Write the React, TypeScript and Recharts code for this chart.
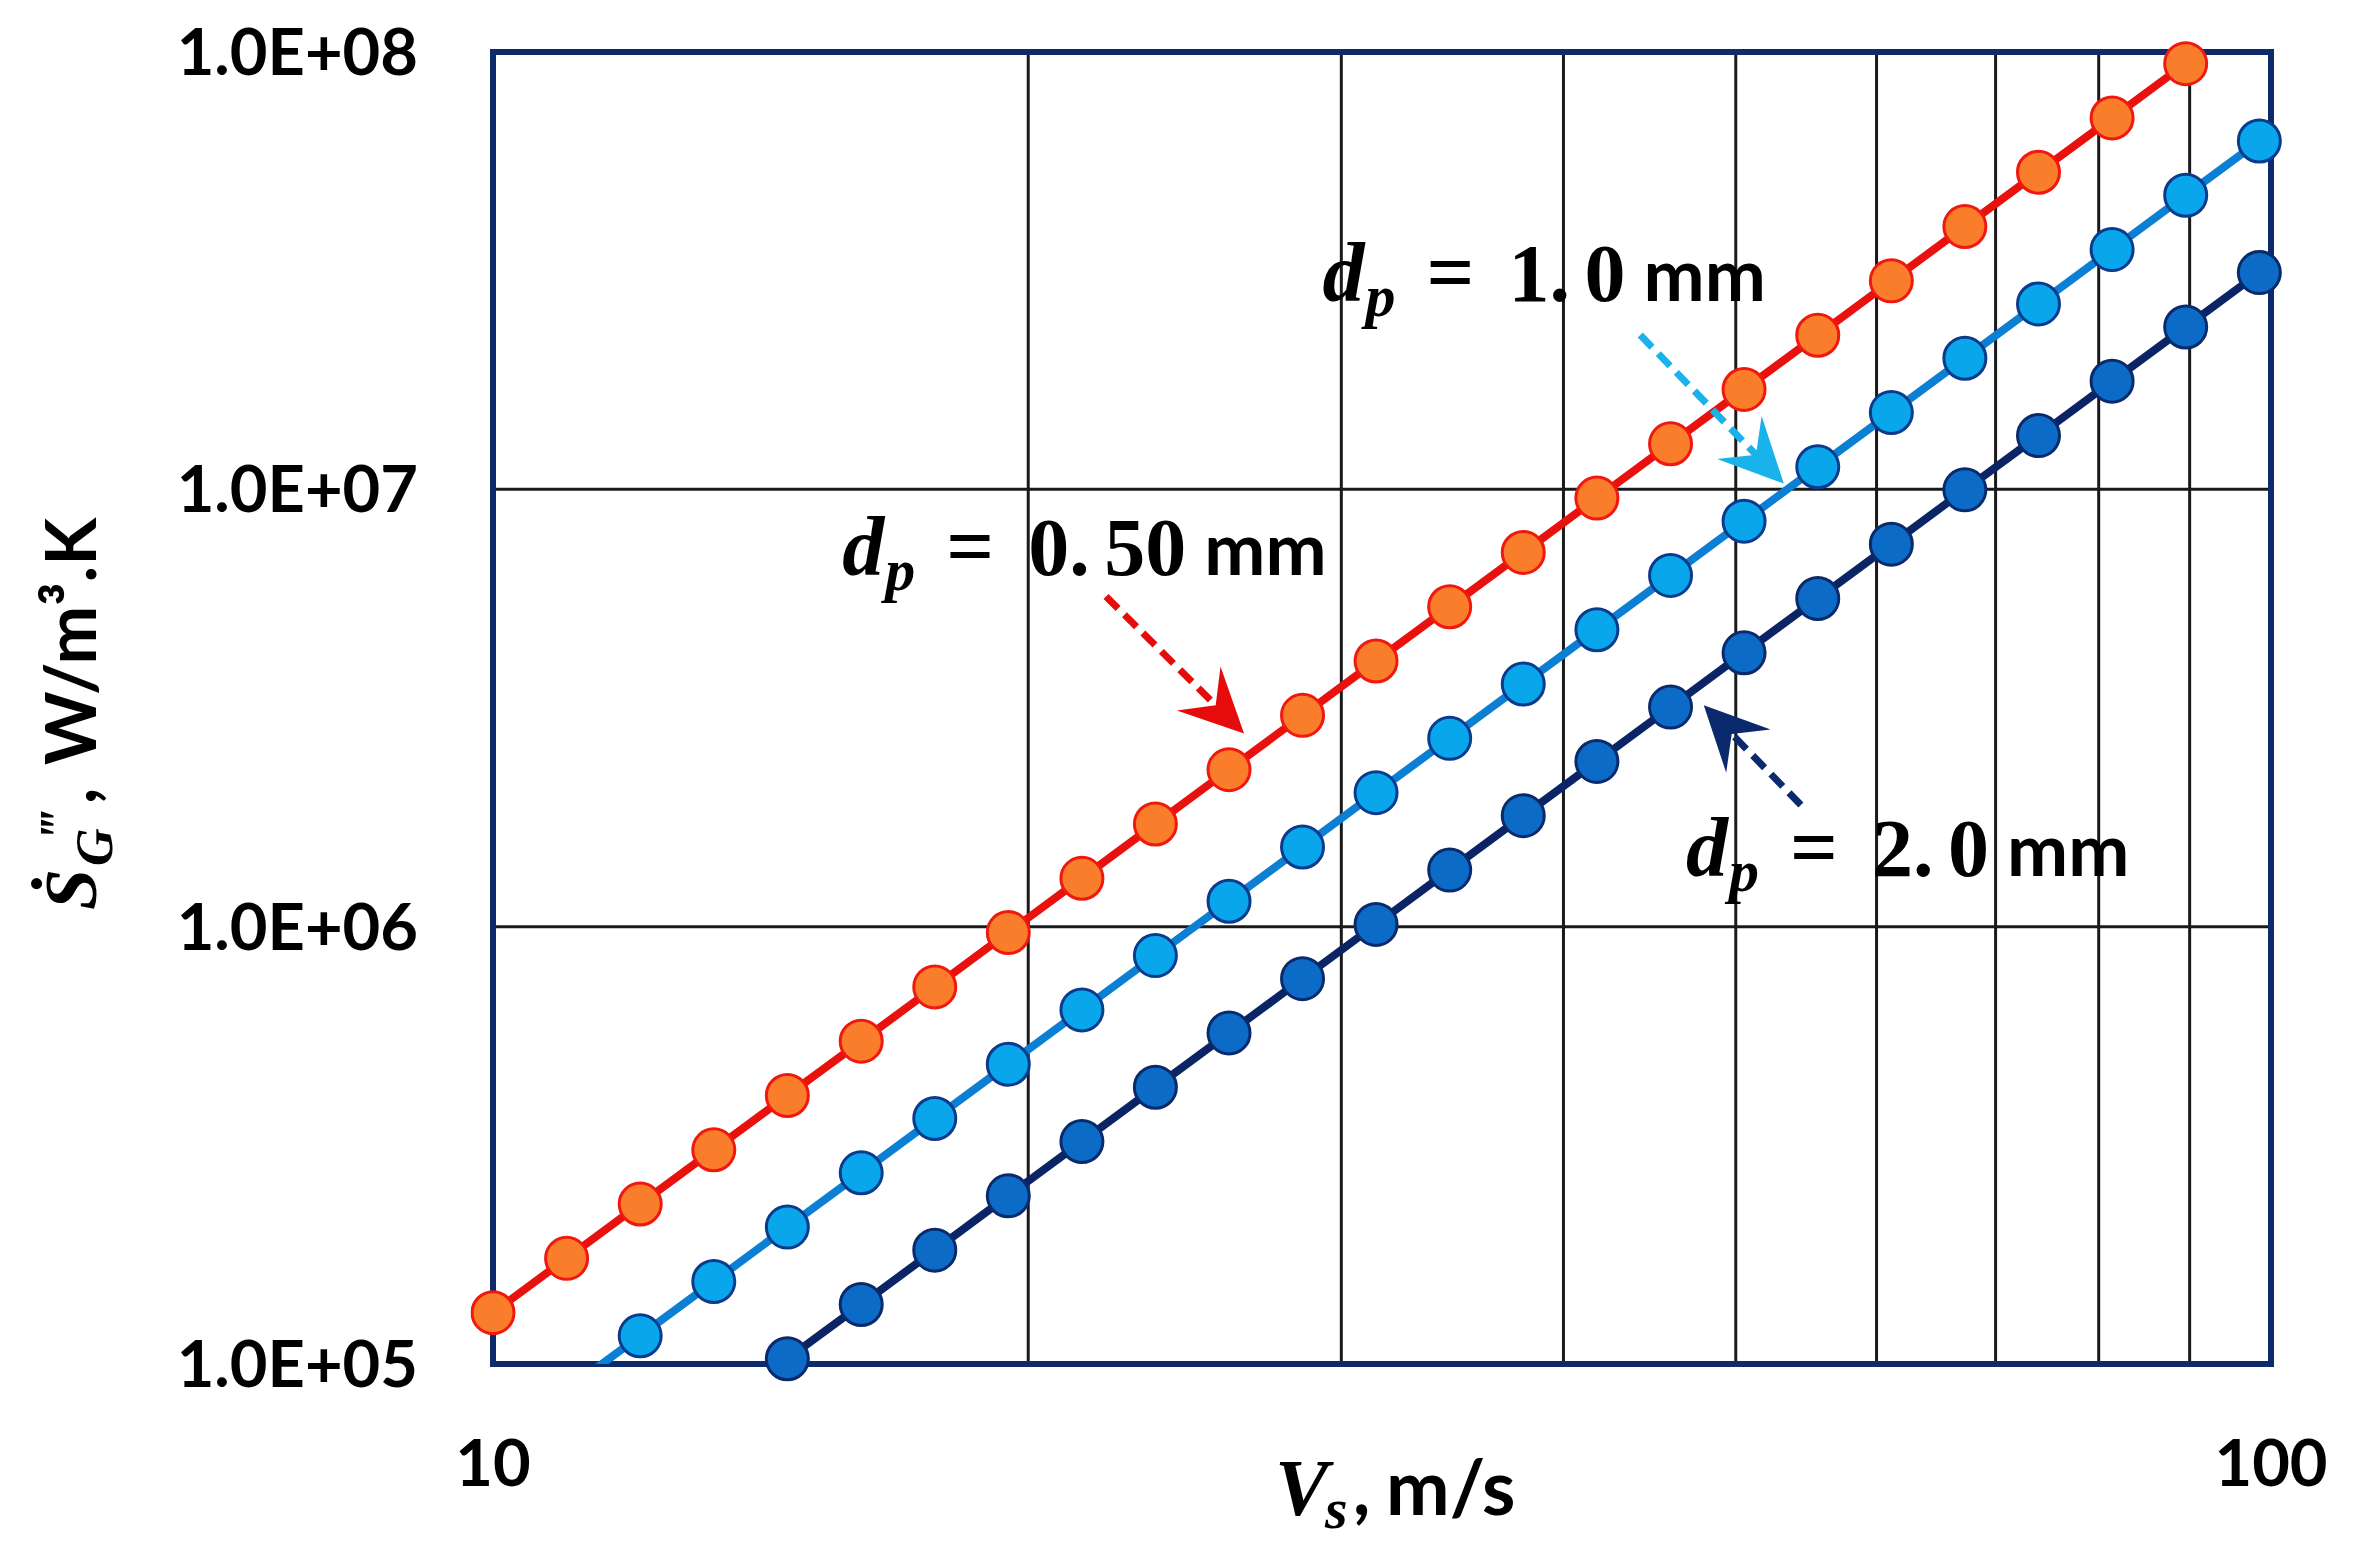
import React from 'react';
import {
  LineChart,
  Line,
  XAxis,
  YAxis,
  CartesianGrid,
  ReferenceArea,
  ReferenceDot,
  ReferenceLine,
  Customized,
} from 'recharts';

// ---------- data ----------
const VELOCITY = [
  10, 11, 12.1, 13.31, 14.64, 16.11, 17.72, 19.49, 21.44, 23.58, 25.94, 28.53, 31.38,
  34.52, 37.97, 41.77, 45.95, 50.54, 55.6, 61.16, 67.27, 74.0, 81.4, 89.54, 98.5,
];

// d_p = 0.50 mm : V = 10 ... 89.5
const V_050 = VELOCITY.slice(0, 24);
const S_050 = [
  1.31e5, 1.744e5, 2.321e5, 3.089e5, 4.111e5, 5.472e5, 7.283e5, 9.694e5, 1.29e6, 1.717e6,
  2.286e6, 3.042e6, 4.05e6, 5.39e6, 7.174e6, 9.549e6, 1.271e7, 1.692e7, 2.251e7, 2.997e7,
  3.989e7, 5.309e7, 7.066e7, 9.405e7,
];

// d_p = 1.0 mm : V = 11 ... 98.5
const V_100 = VELOCITY.slice(1, 25);
const S_100 = [
  8.72e4, 1.16e5, 1.544e5, 2.056e5, 2.736e5, 3.642e5, 4.847e5, 6.452e5, 8.587e5, 1.143e6,
  1.521e6, 2.025e6, 2.695e6, 3.587e6, 4.774e6, 6.355e6, 8.458e6, 1.126e7, 1.498e7, 1.994e7,
  2.654e7, 3.533e7, 4.703e7, 6.259e7,
];

// d_p = 2.0 mm : V = 14.6 ... 98.5
const V_200 = VELOCITY.slice(4, 25);
const S_200 = [
  1.028e5, 1.368e5, 1.821e5, 2.424e5, 3.226e5, 4.294e5, 5.715e5, 7.606e5, 1.012e6, 1.347e6,
  1.794e6, 2.387e6, 3.177e6, 4.229e6, 5.629e6, 7.492e6, 9.972e6, 1.327e7, 1.767e7, 2.351e7,
  3.13e7,
];

const X_DOMAIN = [10, 100];
const X_TICKS = [10, 20, 30, 40, 50, 60, 70, 80, 90, 100];
const X_LABELED = [10, 100];
const Y_DOMAIN = [1e5, 1e8];
const Y_TICKS = [1e5, 1e6, 1e7, 1e8];
const Y_TICK_LABELS = ['1.0E+05', '1.0E+06', '1.0E+07', '1.0E+08'];

// annotation anchors (data coordinates)
const LABELS = [
  { key: 'l050', value: '0.50', x: 15.72, y: 6.37e6 },
  { key: 'l100', value: '1.0', x: 29.28, y: 2.695e7 },
  { key: 'l200', value: '2.0', x: 46.88, y: 1.306e6 },
];
const ARROWS = [
  { key: 'a050', color: '#e60c0c', from: { x: 22.12, y: 5.69e6 }, to: { x: 26.45, y: 2.765e6 } },
  { key: 'a100', color: '#1ab2ea', from: { x: 44.18, y: 2.254e7 }, to: { x: 53.21, y: 1.031e7 } },
  { key: 'a200', color: '#0b2a6e', from: { x: 54.4, y: 1.898e6 }, to: { x: 47.97, y: 3.208e6 } },
];

const zip = (vs: number[], ss: number[]) => vs.map((v, i) => ({ v, s: ss[i] }));
const data050 = zip(V_050, S_050);
const data100 = zip(V_100, S_100);
const data200 = zip(V_200, S_200);
const data100Dots = data100.filter((d) => d.s >= Y_DOMAIN[0]);

const SANS = "Lato, 'Open Sans', sans-serif";
const SERIF = "'Liberation Serif', 'DejaVu Serif', serif";

// ---------- render helpers ----------
const XTick = (props: any) => {
  const { x, y, payload } = props;
  if (!X_LABELED.includes(payload.value)) return <g />;
  return (
    <text x={x} y={y} dy={23} textAnchor="middle" fontFamily={SANS} fontWeight={700} fontSize={65} fill="#000">
      {String(payload.value)}
    </text>
  );
};

const YTick = (props: any) => {
  const { x, y, payload } = props;
  const idx = Y_TICKS.indexOf(payload.value);
  return (
    <text x={x} y={y} dy={23} textAnchor="end" fontFamily={SANS} fontWeight={700} fontSize={65} fill="#000">
      {Y_TICK_LABELS[idx]}
    </text>
  );
};

const DpLabel = ({ cx, cy, value }: { cx: number; cy: number; value: string }) => {
  const [intPart, frac] = value.split('.');
  return (
    <text x={cx} y={cy} fill="#000" fontWeight={700}>
      <tspan fontFamily={SERIF} fontStyle="italic" fontSize={84}>d</tspan>
      <tspan x={cx + 43} dy={15} fontFamily={SERIF} fontStyle="italic" fontSize={60}>p</tspan>
      <tspan x={cx + 104} dy={-15} fontFamily={SERIF} fontSize={84}>=</tspan>
      <tspan x={cx + 186} fontFamily={SERIF} fontSize={82}>{intPart + '.'}</tspan>
      <tspan x={cx + 262} fontFamily={SERIF} fontSize={82}>{frac}</tspan>
      <tspan dx={18} fontFamily={SANS} fontSize={73}>mm</tspan>
    </text>
  );
};

const renderArrow = (color: string) => (props: any) => {
  const { x1, y1, x2, y2 } = props;
  const dx = x2 - x1;
  const dy = y2 - y1;
  const L = Math.hypot(dx, dy) || 1;
  const ux = dx / L;
  const uy = dy / L;
  const px = -uy;
  const py = ux;
  const head = 64;
  const half = 31;
  const notch = 40;
  const bx = x2 - ux * head;
  const by = y2 - uy * head;
  const nx = x2 - ux * notch;
  const ny = y2 - uy * notch;
  const pts = `${x2},${y2} ${bx + px * half},${by + py * half} ${nx},${ny} ${bx - px * half},${by - py * half}`;
  return (
    <g>
      <line x1={x1} y1={y1} x2={nx} y2={ny} stroke={color} strokeWidth={7} strokeDasharray="17 9" />
      <polygon points={pts} fill={color} />
    </g>
  );
};

const AxisTitles = () => (
  <g>
    {/* x-axis title: V_s, m/s */}
    <text x={1267} y={1507} fill="#000" fontWeight={700}>
      <tspan fontFamily={SERIF} fontStyle="italic" fontSize={80}>V</tspan>
      <tspan x={1317} dy={13} fontFamily={SERIF} fontStyle="italic" fontSize={58}>s</tspan>
      <tspan x={1345} dy={-13} fontFamily={SANS} fontSize={74}>,</tspan>
      <tspan x={1378} fontFamily={SANS} fontSize={76}>m/s</tspan>
    </text>
    {/* y-axis title: S-dot'''_G , W/m3.K */}
    <g transform="translate(88, 902) rotate(-90)">
      <text x={0} y={0} fill="#000" fontWeight={700}>
        <tspan fontFamily={SERIF} fontStyle="italic" fontSize={74}>Ṡ</tspan>
        <tspan x={70} dy={-20} fontFamily={SERIF} fontStyle="italic" fontSize={52}>‴</tspan>
        <tspan x={44} dy={36} fontFamily={SERIF} fontStyle="italic" fontSize={52}>G</tspan>
        <tspan x={106} dy={-16} fontFamily={SANS} fontSize={70}>,</tspan>
        <tspan x={145} fontFamily={SANS} fontSize={70}>W/m³.K</tspan>
      </text>
    </g>
  </g>
);

export default function App() {
  return (
    <div style={{ width: 2344, height: 1547, background: '#fff' }}>
      <LineChart width={2344} height={1547} margin={{ top: 44, right: 81, bottom: 0, left: 0 }}>
        <CartesianGrid stroke="#1a1a1a" strokeWidth={3} horizontal vertical />
        <XAxis
          type="number"
          dataKey="v"
          scale="log"
          domain={X_DOMAIN}
          ticks={X_TICKS}
          allowDataOverflow
          axisLine={false}
          tickLine={false}
          tickSize={0}
          tickMargin={99}
          height={191}
          tick={<XTick />}
          interval={0}
        />
        <YAxis
          type="number"
          dataKey="s"
          scale="log"
          domain={Y_DOMAIN}
          ticks={Y_TICKS}
          allowDataOverflow
          axisLine={false}
          tickLine={false}
          tickSize={0}
          tickMargin={75}
          width={485}
          tick={<YTick />}
          interval={0}
        />
        <ReferenceArea
          x1={X_DOMAIN[0]}
          x2={X_DOMAIN[1]}
          y1={Y_DOMAIN[0]}
          y2={Y_DOMAIN[1]}
          fill="none"
          fillOpacity={0}
          stroke="#0c2a6c"
          strokeWidth={6}
          ifOverflow="visible"
        />
        <Line
          data={data050}
          dataKey="s"
          type="linear"
          stroke="#e8110e"
          strokeWidth={8}
          dot={{ r: 21, fill: '#f97d2b', stroke: '#f0180f', strokeWidth: 3, clipDot: false }}
          activeDot={false}
          isAnimationActive={false}
        />
        <Line
          data={data100}
          dataKey="s"
          type="linear"
          stroke="#0a7fd4"
          strokeWidth={8}
          dot={false}
          activeDot={false}
          isAnimationActive={false}
        />
        <Line
          data={data100Dots}
          dataKey="s"
          type="linear"
          stroke="none"
          strokeWidth={0}
          dot={{ r: 21, fill: '#0aa6ec', stroke: '#0b3b8c', strokeWidth: 3, clipDot: false }}
          activeDot={false}
          isAnimationActive={false}
        />
        <Line
          data={data200}
          dataKey="s"
          type="linear"
          stroke="#0b2466"
          strokeWidth={8}
          dot={{ r: 21, fill: '#0b6bc6', stroke: '#0a2a6c', strokeWidth: 3, clipDot: false }}
          activeDot={false}
          isAnimationActive={false}
        />
        {ARROWS.map((a) => (
          <ReferenceLine
            key={a.key}
            segment={[a.from, a.to]}
            shape={renderArrow(a.color)}
            ifOverflow="visible"
          />
        ))}
        {LABELS.map((l) => (
          <ReferenceDot
            key={l.key}
            x={l.x}
            y={l.y}
            r={0}
            ifOverflow="visible"
            shape={(p: any) => <DpLabel cx={p.cx} cy={p.cy} value={l.value} />}
          />
        ))}
        <Customized component={<AxisTitles />} />
      </LineChart>
    </div>
  );
}
